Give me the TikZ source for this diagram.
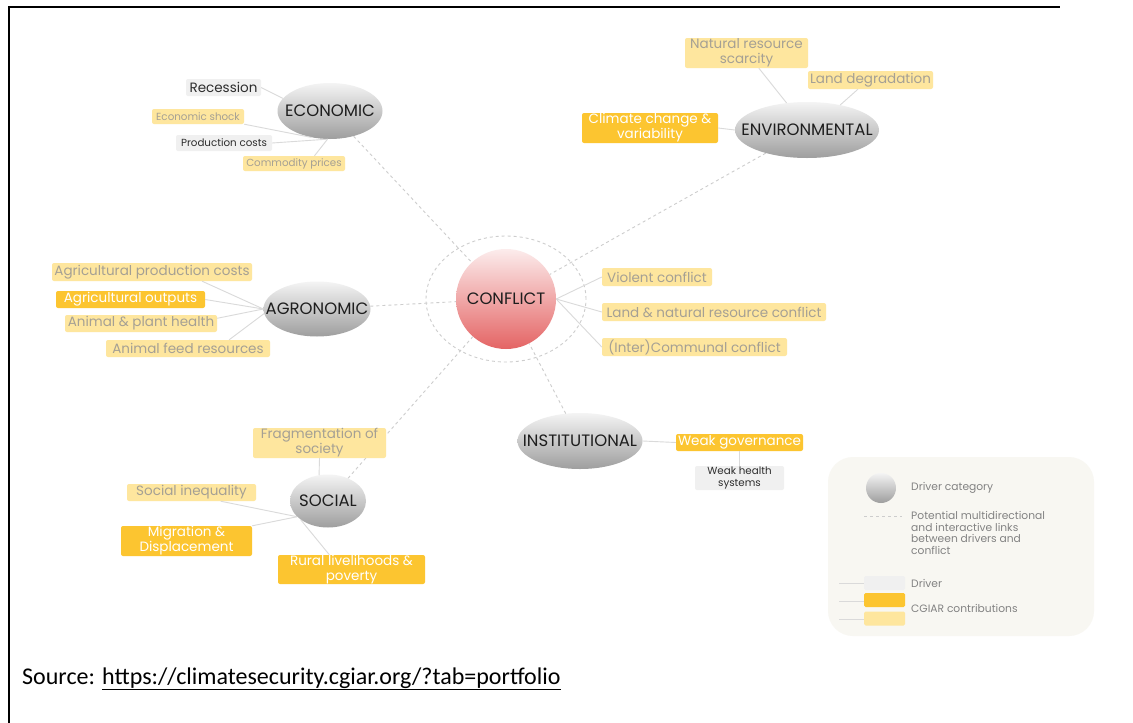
\documentclass[tikz,border=0pt]{standalone}
\usepackage{fontspec}
\setmainfont{Poppins}
\newfontfamily\srcfont{Carlito}
\usetikzlibrary{shapes.geometric,calc}
\definecolor{cgbold}{RGB}{252,197,48}
\definecolor{cglight}{RGB}{254,230,158}
\definecolor{lighttxt}{RGB}{165,160,148}
\definecolor{drvgray}{RGB}{240,240,240}
\definecolor{drvtxt}{RGB}{45,45,45}
\definecolor{cattxt}{RGB}{30,30,30}
\definecolor{linkc}{RGB}{218,218,218}
\definecolor{dlinkc}{RGB}{205,205,205}
\definecolor{shtop}{RGB}{244,244,244}
\definecolor{shbot}{RGB}{158,158,158}
\definecolor{pinktop}{RGB}{252,236,236}
\definecolor{pinkbot}{RGB}{228,100,100}
\definecolor{legbg}{RGB}{248,247,242}
\definecolor{legtxt}{RGB}{130,130,130}
\newcommand\leafsize{\fontsize{13.5}{15}\selectfont}
\newcommand\catsize{\fontsize{16.5}{18}\selectfont}
\newcommand\tinysize{\fontsize{10.3}{11.5}\selectfont}
\newcommand\legsize{\fontsize{10.7}{11.7}\selectfont}
\begin{document}
\begin{tikzpicture}[x=1pt,y=-1pt,
  box/.style={rounded corners=2pt, inner sep=0pt, align=center, font=\leafsize},
  lightbox/.style={box, fill=cglight, text=lighttxt},
  boldbox/.style={box, fill=cgbold, text=white},
  drvbox/.style={box, fill=drvgray, text=drvtxt},
  cat/.style={ellipse, inner sep=0pt, top color=shtop, bottom color=shbot},
  cattext/.style={inner sep=0pt, text=cattxt, font=\catsize},
  link/.style={draw=linkc, line width=0.9pt},
  dlink/.style={draw=dlinkc, line width=0.9pt, dash pattern=on 3pt off 3pt},
  legtext/.style={anchor=west, inner sep=0pt, text=legtxt, font=\legsize, align=left},
  legbox/.style={minimum width=41, minimum height=14, inner sep=0pt, rounded corners=1.5pt},
]
\useasboundingbox (0,0) rectangle (1133,723);
\fill[white] (0,0) rectangle (1133,723);
\fill[black] (7.5,5.6) rectangle (1060,8.0);
\fill[black] (7.5,5.6) rectangle (9.9,723);

% outer dashed ring around conflict
\node[ellipse, draw=dlinkc, line width=0.9pt, dash pattern=on 3pt off 3pt, minimum width=160, minimum height=126, inner sep=0pt] (ring) at (506,299) {};

% category nodes
\node[cat, minimum width=105, minimum height=56] (econ) at (330,111) {};
\node[cat, minimum width=144, minimum height=56] (env) at (807,130) {};
\node[cat, minimum width=107, minimum height=55] (agro) at (317,309) {};
\node[cat, minimum width=125, minimum height=56] (inst) at (580,441) {};
\node[cat, minimum width=76, minimum height=53] (soc) at (328,501) {};
\node[circle, minimum size=100, inner sep=0pt, top color=pinktop, bottom color=pinkbot] (conf) at (506,299) {};
\node[cattext] (econ-t) at (econ) {ECONOMIC};
\node[cattext] (env-t) at (env) {ENVIRONMENTAL};
\node[cattext] (agro-t) at (agro) {AGRONOMIC};
\node[cattext] (inst-t) at (inst) {INSTITUTIONAL};
\node[cattext] (soc-t) at (soc) {SOCIAL};
\node[cattext] (conf-t) at (conf) {CONFLICT};

% dashed links between categories and conflict
\draw[dlink] (econ) -- (conf);
\draw[dlink] (env) -- (conf);
\draw[dlink] (agro) -- (conf);
\draw[dlink] (inst) -- (conf);
\draw[dlink] (soc) -- (conf);

% economic leaves
\node[drvbox, minimum width=75, minimum height=17] (rec) at (223.5,87.5) {Recession};
\node[lightbox, font=\tinysize, minimum width=92, minimum height=15] (es) at (198,116.5) {Economic shock};
\node[drvbox, font=\tinysize, minimum width=96, minimum height=16] (pc) at (224,143) {Production costs};
\node[lightbox, font=\tinysize, minimum width=102, minimum height=15] (cp) at (294,163.5) {Commodity prices};
\draw[link] (rec.east) -- (econ.165);
\draw[link] (es.south east) -- (econ.235);
\draw[link] (pc.east) -- (econ.265);
\draw[link] ($(cp.north)!0.4!(cp.north east)$) -- (econ.265);

% environmental leaves
\node[lightbox, minimum width=123, minimum height=30] (nrs) at (746.5,53) {Natural resource\\scarcity};
\node[lightbox, minimum width=125, minimum height=18] (ld) at (870.5,80) {Land degradation};
\node[boldbox, minimum width=136, minimum height=30] (cc) at (650,128) {Climate change \&\\variability};
\draw[link] ($(nrs.south)!0.2!(nrs.south east)$) -- (env.127);
\draw[link] ($(ld.south)!0.2!(ld.south west)$) -- (env.37);
\draw[link] (cc.east) -- (env.west);

% agronomic leaves
\node[lightbox, minimum width=200, minimum height=18] (apc) at (152,272) {Agricultural production costs};
\node[boldbox, minimum width=149, minimum height=17] (ao) at (130.5,299.5) {Agricultural outputs};
\node[lightbox, minimum width=152, minimum height=17] (aph) at (141,323.5) {Animal \& plant health};
\node[lightbox, minimum width=164, minimum height=17] (afr) at (188,348.5) {Animal feed resources};
\draw[link] ($(apc.south)!0.5!(apc.south east)$) -- (agro.west);
\draw[link] (ao.east) -- (agro.west);
\draw[link] ($(aph.north east)!0.2!(aph.south east)$) -- (agro.west);
\draw[link] ($(afr.north)!0.5!(afr.north east)$) -- (agro.185);

% conflict leaves
\node[lightbox, minimum width=110, minimum height=18] (vc) at (657,277) {Violent conflict};
\node[lightbox, minimum width=224, minimum height=18] (lnr) at (714,312) {Land \& natural resource conflict};
\node[lightbox, minimum width=185, minimum height=18] (icc) at (694.5,347) {(Inter)Communal conflict};
\draw[link] (conf.east) -- (vc.west);
\draw[link] (conf.east) -- (lnr.west);
\draw[link] (conf.east) -- (icc.west);

% institutional leaves
\node[boldbox, minimum width=127, minimum height=17] (wg) at (739.5,442.5) {Weak governance};
\node[drvbox, font=\tinysize, minimum width=89, minimum height=24] (whs) at (739.5,478) {Weak health\\systems};
\draw[link] (inst.east) -- (wg.west);
\draw[link] (wg.south) -- (whs.north);

% social leaves
\node[lightbox, minimum width=133, minimum height=30] (frag) at (319.5,443) {Fragmentation of\\society};
\node[lightbox, minimum width=129, minimum height=17] (si) at (191.5,492.5) {Social inequality};
\node[boldbox, minimum width=131, minimum height=30] (mig) at (186.5,541) {Migration \&\\Displacement};
\node[boldbox, minimum width=147, minimum height=29] (rl) at (351.5,569.5) {Rural livelihoods \&\\poverty};
\draw[link] (frag.south) -- (soc.109);
\draw[link] ($(si.south)!0.45!(si.south east)$) -- (soc.207);
\draw[link] (mig.north east) -- (soc.207);
\draw[link] ($(rl.north)!0.3!(rl.north west)$) -- (soc.214);

% legend
\node[fill=legbg, rounded corners=25pt, minimum width=266, minimum height=179, inner sep=0pt] (leg) at (961,546.5) {};
\node[circle, minimum size=30, inner sep=0pt, top color=shtop, bottom color=shbot] (lcat) at (881,488) {};
\node[legtext] (tcat) at (911,488) {Driver category};
\coordinate (ld1) at (864,516);
\coordinate (ld2) at (902,516);
\draw[dlink] (ld1) -- (ld2);
\node[legtext, anchor=north west] (tdash) at (911,511) {Potential multidirectional\\and interactive links\\between drivers and\\conflict};
\node[legbox, fill=drvgray] (lb1) at (884.5,583) {};
\node[legbox, fill=cgbold] (lb2) at (884.5,600) {};
\node[legbox, fill=cglight] (lb3) at (884.5,618.5) {};
\coordinate (ll1) at (839,583);
\coordinate (ll2) at (839,601);
\coordinate (ll3) at (839,619);
\draw[link] (ll1) -- (lb1.west);
\draw[link] (ll2) -- (ll2 -| lb2.west);
\draw[link] (ll3) -- (ll3 -| lb3.west);
\node[legtext] (tdrv) at (911,583) {Driver};
\node[legtext] (tcg) at (911,608) {CGIAR contributions};

% source
\node[anchor=base west, inner sep=0pt, font=\srcfont\fontsize{24}{28}\selectfont] (src) at (22,684) {Source: \underline{https://climatesecurity.cgiar.org/?tab=portfolio}};
\end{tikzpicture}
\end{document}
